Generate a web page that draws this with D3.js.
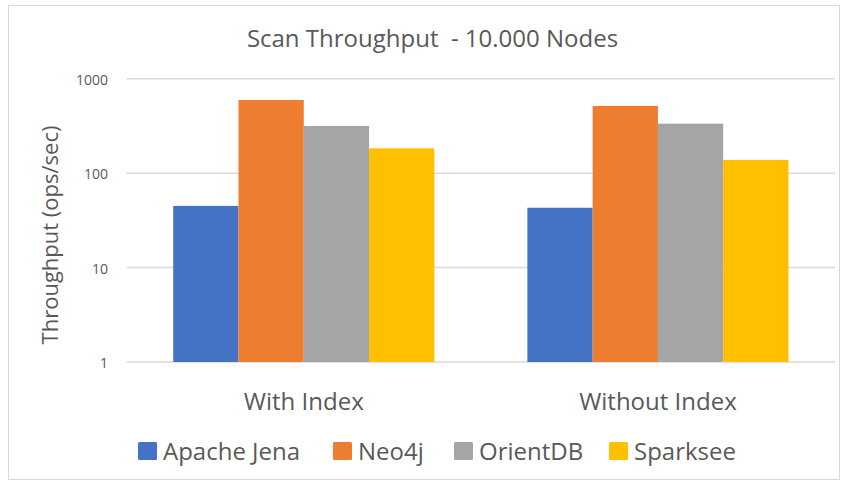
<!DOCTYPE html>
<html><head><meta charset="utf-8">
<script src="https://cdn.jsdelivr.net/npm/d3@7"></script>
<style>body{margin:0;background:#fff}svg{display:block}text{font-family:"Open Sans",sans-serif;fill:#595959}</style>
</head><body><svg id="c" width="845" height="486"></svg>
<script>
const categories = ["With Index", "Without Index"];
const seriesNames = ["Apache Jena", "Neo4j", "OrientDB", "Sparksee"];
const apacheJena = [45, 43];
const neo4j = [595, 514];
const orientDB = [316, 334];
const sparksee = [183, 138];
const tickValues = [1, 10, 100, 1000];
const colors = ["#4472c4", "#ed7d31", "#a5a5a5", "#ffc000"];
const seriesValues = [apacheJena, neo4j, orientDB, sparksee];

const svg = d3.select("#c");
svg.append("rect").attr("x",8.5).attr("y",5.5).attr("width",831).attr("height",474)
  .attr("fill","#fff").attr("stroke","#d9d9d9");

const m = {left:126.7, right:835, top:78.7, bottom:362};
const x = d3.scaleBand().domain(categories).range([m.left, m.right]).paddingInner(0).paddingOuter(0);
const inner = d3.scaleBand().domain(seriesNames).range([0, x.bandwidth()]).paddingInner(0).paddingOuter(0.7126);
const y = d3.scaleLog().domain([1,1000]).range([m.bottom, m.top]);

// gridlines
svg.append("g").selectAll("line").data(tickValues).join("line")
  .attr("x1", m.left).attr("x2", m.right)
  .attr("y1", d=>y(d)).attr("y2", d=>y(d))
  .attr("stroke","#d9d9d9").attr("stroke-width",1.5);

// y axis labels
const yAxis = d3.axisLeft(y).tickValues(tickValues).tickFormat(d3.format("d")).tickSize(0).tickPadding(0);
const ya = svg.append("g").attr("transform",`translate(108,1)`).call(yAxis);
ya.select(".domain").remove();
ya.selectAll("text").style("font-size","14px").attr("fill","#595959").attr("font-family","Open Sans");

// bars
const rows = [];
categories.forEach((c,i)=>seriesNames.forEach((s,j)=>rows.push({c, s, v: seriesValues[j][i], col: colors[j]})));
svg.append("g").selectAll("rect").data(rows).join("rect")
  .attr("x", d=>x(d.c)+inner(d.s))
  .attr("width", inner.bandwidth())
  .attr("y", d=>y(d.v))
  .attr("height", d=>y(1)-y(d.v))
  .attr("fill", d=>d.col);

// category labels
svg.append("g").selectAll("text").data(categories).join("text")
  .attr("x", d=>x(d)+x.bandwidth()/2).attr("y", 410)
  .attr("text-anchor","middle").style("font-size","24px").text(d=>d);

// title
svg.append("text").attr("x", 432.5).attr("y", 47).attr("text-anchor","middle")
  .style("font-size","24px").attr("xml:space","preserve").text("Scan Throughput  - 10.000 Nodes");

// y axis title
svg.append("text").attr("transform","translate(58,235) rotate(-90)").attr("text-anchor","middle")
  .style("font-size","22px").text("Throughput (ops/sec)");

// legend
const legX = [138, 333, 454, 609];
const lg = svg.append("g").selectAll("g").data(seriesNames).join("g")
  .attr("transform",(d,i)=>`translate(${legX[i]},442)`);
lg.append("rect").attr("width",19).attr("height",18).attr("rx",1.5).attr("fill",(d,i)=>colors[i]);
lg.append("text").attr("x",25).attr("y",18).style("font-size","24px").text(d=>d);
</script></body></html>
